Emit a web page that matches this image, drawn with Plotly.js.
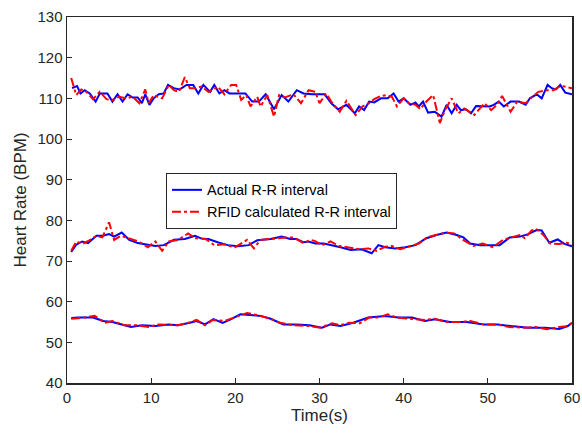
<!DOCTYPE html>
<html>
<head>
<meta charset="utf-8">
<script src="https://cdn.plot.ly/plotly-3.0.1.min.js"></script>
<style>html,body{margin:0;padding:0;background:#fff;}#chart{width:582px;height:439px;}</style>
</head>
<body>
<div id="chart"></div>
<script>
// Legend labels
const seriesNames = ["Actual R-R interval", "RFID calculated R-R interval"];

// Top band (~110 BPM)
const topActualT = [0.6,1.2,1.6,2.1,2.7,3.4,3.9,4.8,5.4,6.0,6.6,7.2,7.8,8.4,8.9,9.3,9.8,10.3,10.9,11.5,12.0,12.7,13.4,14.2,15.0,15.6,16.2,17.0,17.5,18.1,18.7,19.3,19.7,21.2,22.0,22.8,23.6,24.6,25.5,26.3,27.3,28.1,29.1,29.8,30.6,31.4,32.2,33.2,34.2,34.7,35.3,35.9,36.5,37.3,38.1,38.8,39.4,40.0,40.8,41.4,41.8,42.3,42.9,43.7,44.5,45.1,45.7,46.3,46.8,47.4,48.0,48.6,49.4,50.2,50.7,51.3,51.9,52.7,53.7,54.5,55.0,55.8,56.4,57.1,57.6,58.1,58.6,59.2,60.0];
const topActualV = [112.5,113,111.2,112,111.2,109.2,111.2,111.2,109.2,111,109.2,111,110.2,110.2,108.8,111,108.4,110,111,111.2,113.3,112.5,112.2,113.3,113.3,111.2,113.3,111.6,113.3,111.2,112,111.2,111.2,111.2,109.2,109.2,111,107.3,110.8,109.2,112,111.2,111,111,111,108.8,107.3,108.4,106.3,108,107.1,109.2,109,110,110,111.2,109.2,110,108.4,109,108,109.2,106.5,106.7,105.5,108.4,106.3,108.4,107.1,107.3,106.3,108.1,108,108,108.4,109.2,108,109.2,109.2,108.4,110,111,110,113.3,112.5,112.2,113.3,111.4,111];
const topRfidT = [0.5,1.1,1.7,2.3,3.1,3.9,4.7,5.4,6.2,7.0,7.8,8.6,9.3,9.7,10.3,11.3,12.1,12.7,13.3,14.0,14.6,15.2,16.0,16.8,17.3,17.9,18.7,19.5,20.1,20.7,21.3,21.8,22.6,23.0,23.8,24.6,25.2,25.9,26.9,27.8,28.7,29.5,30.0,30.8,31.4,32.4,33.2,34.3,35.1,35.9,36.5,37.3,38.0,38.6,39.2,40.0,40.6,41.4,42.0,42.5,43.5,44.3,44.9,45.7,46.5,47.2,48.4,49.6,50.4,51.1,51.7,52.7,53.5,54.5,55.2,56.0,57.0,57.8,58.6,59.1,60.0];
const topRfidV = [115,110.8,112.2,111.6,109.8,111.6,109.8,109.6,110.4,110,110.4,108.8,112.2,108.8,110.8,110,113.3,112,111.6,115.2,112.5,112.5,112.9,111.6,112,112.9,111,113.3,113.3,109.6,110.8,108,110.4,108,110.8,105.5,110.8,110.2,111,108.8,112,111.6,108.8,111.2,109.2,106.7,109.4,105.9,108,108.8,109.8,110.6,110.8,110.4,108,110,108.8,108.4,107.3,108.8,110.8,103.9,107.1,110,106.3,107.5,105.9,108.8,107.1,108.4,110.6,106.7,109.2,108.8,110.2,111.6,112,112,113,112.9,112.5];

// Middle band (~75 BPM)
const midActualT = [0.5,1.1,1.8,2.5,3.5,4.3,5.0,5.6,6.5,7.4,8.4,9.3,10.5,11.5,12.7,14.0,15.2,16.0,16.8,17.9,19.1,20.3,21.6,22.6,24.2,25.5,26.5,27.3,28.1,28.7,29.5,30.5,31.5,32.5,33.7,35.0,36.2,37.0,37.8,39.0,40.2,41.4,42.7,43.9,45.1,46.3,47.1,47.9,49.1,50.4,51.4,52.6,53.8,54.8,55.8,56.4,57.3,58.3,59.1,60.0];
const midActualV = [72.2,74,74.8,74.4,76.2,76.2,76.6,76,77,75.2,74.4,74.1,73.7,73.9,75.2,75.4,76.2,75.5,75.4,74.6,73.9,73.6,73.9,75.1,75.4,76,75.4,75.4,74.6,74.8,74.3,74.3,73.9,73.4,72.7,72.9,71.9,73.9,73.4,73.1,73.4,73.9,75.6,76.4,77,76.4,75.8,74.3,73.9,73.9,73.9,75.8,76,76.6,77.6,77.5,74.5,75.3,74.2,73.6];
const midRfidT = [0.5,1.1,1.8,2.6,3.5,4.2,5.0,5.6,6.4,7.4,8.5,9.6,10.5,11.3,12.1,13.2,14.4,15.2,16.4,17.5,18.7,19.9,21.4,22.2,23.0,24.6,26.0,26.9,28.1,28.9,29.5,30.3,31.3,32.3,33.5,34.8,35.8,36.8,37.8,38.6,39.6,40.8,41.8,42.8,44.0,45.0,46.0,47.2,48.3,49.4,50.6,51.8,52.8,53.8,54.4,55.2,55.8,56.6,57.4,58.5,59.4,60.0];
const midRfidV = [72.5,74.8,74.2,75,76.2,75.8,79.5,75.2,76.2,75.5,74.8,73.4,74.8,72.5,74.8,75.2,76.8,75.6,75.5,73.9,74.1,73.3,75.2,73.1,75.2,75.5,75.8,75.8,74.4,75.2,74.9,73.9,74.8,73.7,73.4,72.9,73.1,72.5,73.5,73.7,72.9,73.6,74.3,75.8,76.4,77,76.8,75,73.7,74.3,73.4,75.2,75.8,76.4,75.6,77.5,77.8,76.4,74.3,74.2,74.5,74.0];

// Bottom band (~55 BPM)
const lowActualT = [0.5,1.3,3.1,4.3,5.4,6.8,7.6,8.9,10.5,12.1,13.2,14.6,15.4,16.4,17.4,18.5,19.5,20.6,21.8,23.0,24.2,25.7,27.3,28.8,30.3,31.3,32.5,34.0,35.8,37.8,39.4,41.0,42.5,43.7,45.5,47.5,49.5,51.2,52.8,54.8,56.8,58.5,59.5,60.0];
const lowActualV = [56,56.1,56.1,55.25,55,54.2,53.8,54.2,54,54.4,54.2,54.8,55.25,54.4,55.7,54.8,55.7,56.9,56.7,56.5,55.8,54.4,54.4,54.2,53.6,54.4,54,54.8,56.1,56.5,56.1,56.1,55.25,55.7,55,55,54.4,54.4,54,53.6,53.6,53.3,54,54.8];
const lowRfidT = [0.5,1.3,3.3,4.5,5.4,6.8,8.2,9.7,10.9,12.1,13.2,14.4,15.4,16.4,17.3,18.7,20.3,21.4,22.6,24.2,25.3,26.9,28.8,30.1,31.5,32.5,33.5,34.8,35.9,37.0,38.1,39.2,40.6,42.5,43.7,45.1,46.7,47.9,49.5,51.2,52.4,54.4,55.6,57.0,58.5,59.5,60.0];
const lowRfidV = [55.8,55.9,56.5,54.8,55.25,54.2,54.2,53.8,54.4,54.2,54.2,54.8,55.5,54.2,55.5,55.25,56.5,57.2,56.7,55.8,54.8,54.2,54,53.6,54.7,54.2,54.8,54.7,56.1,56.1,56.9,56.1,55.8,55.5,55.8,55,55,55.25,54.4,54.4,53.8,53.6,53.8,53.2,53.8,54,54.8];

const blue = "#0000FF";
const red = "#FF0000";
const fam = "Arial, Liberation Sans, sans-serif";

function actual(t, v, show) {
  return {x: t, y: v, type: "scatter", mode: "lines", name: seriesNames[0],
    legendgroup: "a", showlegend: show, line: {color: blue, width: 2}};
}
function rfid(t, v, show) {
  return {x: t, y: v, type: "scatter", mode: "lines", name: seriesNames[1],
    legendgroup: "r", showlegend: show, line: {color: red, width: 2, dash: "dashdot"}};
}

const data = [
  actual(topActualT, topActualV, true),
  rfid(topRfidT, topRfidV, true),
  actual(midActualT, midActualV, false),
  rfid(midRfidT, midRfidV, false),
  actual(lowActualT, lowActualV, false),
  rfid(lowRfidT, lowRfidV, false)
];

const axisCommon = {
  showline: true, mirror: true, linecolor: "#262626", linewidth: 1.5,
  ticks: "inside", ticklen: 5, tickwidth: 1, tickcolor: "#262626",
  showgrid: false, zeroline: false,
  tickfont: {family: fam, size: 15, color: "#262626"}
};

const layout = {
  width: 582, height: 439,
  margin: {l: 67, r: 10, t: 17, b: 56},
  paper_bgcolor: "#fff", plot_bgcolor: "#fff",
  showlegend: true,
  xaxis: Object.assign({}, axisCommon, {
    range: [0, 60], tickmode: "array", tickvals: [0,10,20,30,40,50,60],
    title: {text: "Time(s)", font: {family: fam, size: 17, color: "#262626"}, standoff: 4}
  }),
  yaxis: Object.assign({}, axisCommon, {
    range: [40, 130], tickmode: "array", tickvals: [40,50,60,70,80,90,100,110,120,130],
    title: {text: "Heart Rate (BPM)", font: {family: fam, size: 17, color: "#262626"}, standoff: 6}
  }),
  legend: {
    x: 0.196, y: 0.574, xanchor: "left", yanchor: "top",
    bgcolor: "#fff", bordercolor: "#262626", borderwidth: 1,
    font: {family: fam, size: 14.5, color: "#000"},
    tracegroupgap: 0, itemwidth: 30
  }
};

Plotly.newPlot("chart", data, layout, {displayModeBar: false, staticPlot: true});
</script>
</body>
</html>
